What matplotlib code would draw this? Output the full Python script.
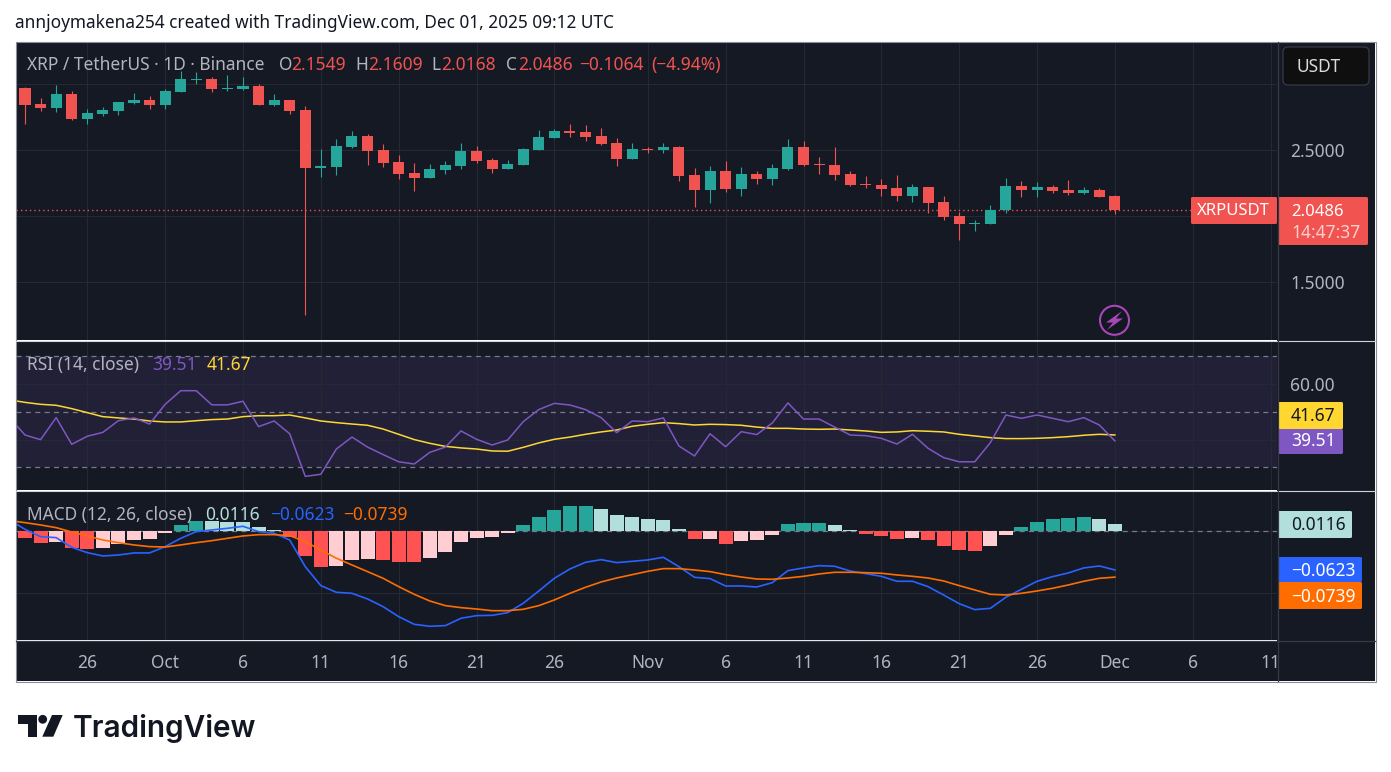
#!/usr/bin/env python3
"""XRP / TetherUS daily chart with RSI and MACD panes, TradingView snapshot style."""
import numpy as np
import matplotlib
matplotlib.use('Agg')
from matplotlib import pyplot as plt
from matplotlib.patches import Rectangle, FancyBboxPatch, Polygon, Circle

W, H = 1391, 772

# candles, first one is 22 Sep
opens = [2.972, 2.851, 2.820, 2.926, 2.737, 2.775, 2.798, 2.858, 2.881, 2.843,
         2.942, 3.035, 3.040, 2.964, 2.964, 2.987, 2.843, 2.881, 2.805, 2.366,
         2.373, 2.525, 2.608, 2.502, 2.411, 2.328, 2.290, 2.351, 2.381, 2.495,
         2.427, 2.358, 2.389, 2.502, 2.593, 2.646, 2.639, 2.608, 2.555, 2.434,
         2.510, 2.502, 2.525, 2.313, 2.199, 2.343, 2.207, 2.320, 2.283, 2.358,
         2.525, 2.396, 2.389, 2.320, 2.245, 2.237, 2.214, 2.154, 2.222, 2.108,
         2.002, 1.942, 1.942, 2.048, 2.230, 2.199, 2.222, 2.199, 2.176, 2.199,
         2.1549]
highs = [2.979, 2.896, 2.995, 2.949, 2.813, 2.828, 2.866, 2.934, 2.911, 2.964,
         3.101, 3.093, 3.055, 3.070, 3.055, 3.002, 2.926, 2.881, 2.836, 2.510,
         2.586, 2.646, 2.623, 2.548, 2.464, 2.404, 2.396, 2.419, 2.555, 2.533,
         2.442, 2.427, 2.517, 2.654, 2.661, 2.699, 2.692, 2.669, 2.593, 2.555,
         2.525, 2.555, 2.533, 2.366, 2.381, 2.419, 2.373, 2.343, 2.396, 2.586,
         2.570, 2.449, 2.525, 2.343, 2.305, 2.283, 2.313, 2.245, 2.222, 2.154,
         2.033, 1.972, 2.086, 2.290, 2.267, 2.260, 2.237, 2.275, 2.222, 2.214,
         2.1609]
lows = [2.699, 2.798, 2.790, 2.729, 2.699, 2.760, 2.767, 2.851, 2.813, 2.813,
        2.942, 3.002, 2.942, 2.949, 2.959, 2.843, 2.836, 2.775, 1.252, 2.298,
        2.313, 2.517, 2.389, 2.373, 2.283, 2.192, 2.290, 2.320, 2.358, 2.404,
        2.328, 2.358, 2.389, 2.502, 2.593, 2.601, 2.570, 2.540, 2.381, 2.434,
        2.480, 2.480, 2.267, 2.070, 2.101, 2.184, 2.154, 2.245, 2.237, 2.351,
        2.381, 2.320, 2.275, 2.229, 2.214, 2.154, 2.116, 2.108, 2.025, 1.972,
        1.820, 1.889, 1.942, 2.025, 2.146, 2.146, 2.176, 2.161, 2.169, 2.146,
        2.0168]
closes = [2.843, 2.820, 2.926, 2.737, 2.783, 2.805, 2.866, 2.881, 2.843, 2.949,
          3.040, 3.043, 2.964, 2.972, 2.987, 2.843, 2.881, 2.798, 2.366, 2.381,
          2.533, 2.608, 2.495, 2.404, 2.320, 2.290, 2.358, 2.389, 2.495, 2.419,
          2.358, 2.396, 2.510, 2.601, 2.646, 2.631, 2.601, 2.548, 2.434, 2.510,
          2.502, 2.525, 2.305, 2.199, 2.343, 2.207, 2.320, 2.283, 2.366, 2.525,
          2.389, 2.389, 2.313, 2.237, 2.237, 2.207, 2.154, 2.222, 2.101, 1.995,
          1.942, 1.949, 2.048, 2.230, 2.199, 2.222, 2.192, 2.176, 2.199, 2.146,
          2.0486]

# indicator lines start one day earlier than the candles
rsi = [47.9, 41.65, 39.97, 47.9, 38.3, 41.2, 42.6, 46.8, 47.8, 45.6, 52.7, 57.6,
       57.6, 52.5, 52.5, 53.8, 44.65, 46.7, 42.1, 26.75, 27.5, 36.6, 40.9, 37.3,
       34.6, 32.0, 31.2, 35.4, 37.3, 43.1, 40.1, 38.05, 39.85, 46.45, 50.8, 53.05,
       52.45, 50.8, 47.9, 42.5, 46.7, 46.45, 47.8, 37.7, 34.1, 42.1, 37.45, 42.85,
       41.8, 46.0, 53.2, 47.4, 47.4, 44.5, 41.65, 41.4, 40.45, 38.4, 41.9, 36.85,
       33.5, 32.0, 32.0, 38.9, 48.85, 47.65, 48.85, 47.65, 46.45, 47.9, 45.25, 39.51]
rsi_ma = [54.3, 53.4, 52.7, 52.35, 51.15, 49.7, 48.25, 47.8, 47.4, 46.7, 46.35, 46.35,
          46.8, 47.2, 47.4, 48.25, 48.6, 48.6, 48.85, 47.8, 46.7, 46.1, 45.6, 45.15,
          43.8, 41.9, 40.0, 38.65, 37.55, 37.0, 36.6, 35.9, 35.8, 37.2, 38.8, 40.1,
          40.9, 41.9, 42.75, 43.45, 44.8, 45.5, 46.1, 45.75, 45.25, 45.5, 45.4, 45.15,
          44.5, 44.05, 44.05, 43.8, 43.7, 43.8, 43.45, 43.1, 42.6, 42.75, 43.2, 43.0,
          42.75, 41.9, 41.3, 40.7, 40.35, 40.35, 40.45, 40.7, 41.05, 41.55, 41.9, 41.67]

macd = [0.0183, 0.0032, -0.0086, -0.0102, -0.0258, -0.0344, -0.0398, -0.0382, -0.0349,
        -0.0349, -0.0247, -0.0113, -0.0005, 0.0022, 0.0048, 0.0081, -0.0005, -0.0032,
        -0.0140, -0.0570, -0.0876, -0.0984, -0.1000, -0.1091, -0.1215, -0.1376, -0.1500,
        -0.1532, -0.1521, -0.1403, -0.1360, -0.1355, -0.1312, -0.1161, -0.0962, -0.0758,
        -0.0607, -0.0500, -0.0457, -0.0505, -0.0484, -0.0462, -0.0419, -0.0570, -0.0742,
        -0.0763, -0.0882, -0.0882, -0.0898, -0.0828, -0.0634, -0.0591, -0.0554, -0.0564,
        -0.0640, -0.0683, -0.0726, -0.0806, -0.0806, -0.0892, -0.1027, -0.1167, -0.1263,
        -0.1242, -0.1064, -0.0935, -0.0806, -0.0731, -0.0672, -0.0591, -0.0559, -0.0623]
signal = [0.0172, 0.0140, 0.0102, 0.0059, -0.0011, -0.0075, -0.0140, -0.0183, -0.0220,
          -0.0247, -0.0253, -0.0220, -0.0183, -0.0151, -0.0113, -0.0075, -0.0054, -0.0054,
          -0.0070, -0.0167, -0.0301, -0.0435, -0.0543, -0.0650, -0.0758, -0.0892, -0.1016,
          -0.1124, -0.1199, -0.1231, -0.1253, -0.1280, -0.1280, -0.1258, -0.1199, -0.1107,
          -0.1000, -0.0903, -0.0817, -0.0753, -0.0699, -0.0645, -0.0602, -0.0602, -0.0624,
          -0.0650, -0.0699, -0.0737, -0.0769, -0.0774, -0.0753, -0.0726, -0.0688, -0.0661,
          -0.0661, -0.0667, -0.0677, -0.0704, -0.0726, -0.0753, -0.0801, -0.0876, -0.0946,
          -0.1016, -0.1027, -0.1000, -0.0962, -0.0919, -0.0866, -0.0806, -0.0758, -0.0739]
hist = [-0.0108, -0.0188, -0.0167, -0.0269, -0.0285, -0.0269, -0.0199, -0.0140, -0.0124,
        -0.0027, 0.0102, 0.0168, 0.0167, 0.0151, 0.0150, 0.0065, 0.0022, -0.0097, -0.0398,
        -0.0575, -0.0559, -0.0462, -0.0446, -0.0462, -0.0493, -0.0495, -0.0430, -0.0333,
        -0.0172, -0.0108, -0.0091, -0.0027, 0.0102, 0.0231, 0.0344, 0.0407, 0.0409, 0.0360,
        0.0263, 0.0231, 0.0199, 0.0183, 0.0038, -0.0124, -0.0123, -0.0204, -0.0156, -0.0140,
        -0.0059, 0.0118, 0.0134, 0.0135, 0.0102, 0.0022, -0.0043, -0.0075, -0.0124, -0.0108,
        -0.0140, -0.0237, -0.0301, -0.0317, -0.0237, -0.0059, 0.0070, 0.0151, 0.0199, 0.0215,
        0.0231, 0.0199, 0.0116]

tick_days = [4, 9, 14, 19, 24, 29, 34, 40, 45, 50, 55, 60, 65, 70, 75, 80]
tick_labels = ['26', 'Oct', '6', '11', '16', '21', '26', 'Nov', '6', '11', '16', '21',
               '26', 'Dec', '6', '11']
month_labels = ['Oct', 'Nov', 'Dec']

BG = '#151924'
GRID = '#252934'
AXIS = '#363a45'
TEXT = '#b2b5be'
RED = '#f05350'
GREEN = '#26a69a'
FONT = 'Noto Sans'
SIZE = 12.5

plt.rcParams['font.family'] = [FONT, 'DejaVu Sans']

fig = plt.figure(figsize=(W / 100, H / 100), dpi=100, facecolor='white')

# x scale: day 0 sits at pixel 25, 15.57 px per day
AX_L, AX_R = 16, 1277
XLIM = ((AX_L - 25) / 15.57, (AX_R - 25) / 15.57)


def make_pane(top, bottom, ylim, yticks, ylabels):
    ax = fig.add_axes([AX_L / W, 1 - bottom / H, (AX_R - AX_L) / W, (bottom - top) / H],
                      facecolor=BG)
    ax.set_xlim(*XLIM)
    ax.set_ylim(*ylim)
    ax.set_xticks(tick_days)
    ax.set_xticklabels([])
    ax.yaxis.tick_right()
    ax.set_yticks(yticks)
    ax.set_yticklabels(ylabels, color=TEXT, fontsize=SIZE)
    ax.tick_params(length=0, axis='both')
    ax.tick_params(axis='y', pad=9.5)
    ax.grid(True, color=GRID, linewidth=0.8)
    ax.set_axisbelow(True)
    for side in ax.spines.values():
        side.set_visible(False)
    return ax


ax_price = make_pane(42, 340, (1.0629, 3.3205), [1.5, 2.0, 2.5, 3.0],
                     ['1.5000', '', '2.5000', ''])
ax_rsi = make_pane(341, 490, (21.84, 75.5), [40, 60], ['', '60.00'])
ax_macd = make_pane(491, 640, (-0.1753, 0.065), [-0.1, 0.0], ['', ''])

# candles
days = np.arange(len(closes))
o, h, l, c = map(np.asarray, (opens, highs, lows, closes))
up = c >= o
candle_colors = np.where(up, GREEN, RED)
ax_price.axhline(closes[-1], color=RED, linewidth=1.0, linestyle=(0, (1, 2.2)), zorder=1.5)
wicks = ax_price.vlines(days, l, h, colors=candle_colors, linewidth=0.8, zorder=2)
wicks.set_snap(True)
ax_price.bar(days, np.maximum(np.abs(c - o), 0.006), bottom=np.minimum(o, c), width=0.71,
             color=candle_colors, linewidth=0, zorder=3)

# RSI
line_days = np.arange(len(rsi)) - 1
ax_rsi.axhspan(30, 70, color='#7e57c2', alpha=0.12, linewidth=0, zorder=0.5)
for level in (70, 50, 30):
    ax_rsi.axhline(level, color='#787b86', linewidth=0.9, linestyle=(0, (4, 3.5)), zorder=1)
ax_rsi.plot(line_days, rsi_ma, color='#fdd835', linewidth=1.1, zorder=3)
ax_rsi.plot(line_days, rsi, color='#7e57c2', linewidth=1.1, zorder=4)

# MACD: bar shade follows the direction of the histogram
hist_arr = np.asarray(hist)
prev = np.r_[hist_arr[0] + 0.001, hist_arr[:-1]]
hist_colors = np.where(hist_arr >= 0,
                       np.where(hist_arr > prev, GREEN, '#b2dfdb'),
                       np.where(hist_arr < prev, '#ff5252', '#ffcdd2'))
ax_macd.axhline(0, color='#787b86', linewidth=0.9, linestyle=(0, (4, 3.5)), zorder=1)
ax_macd.bar(days, hist_arr, width=0.9, color=hist_colors, linewidth=0, zorder=2)
ax_macd.plot(line_days, macd, color='#2962ff', linewidth=1.2, zorder=3)
ax_macd.plot(line_days, signal, color='#ff6d00', linewidth=1.2, zorder=4)

# time axis strip under the panes
ax_time = make_pane(641, 681, (0, 1), [], [])
ax_time.grid(False)
ax_time.set_xticklabels(tick_labels, color=TEXT, fontsize=SIZE)
ax_time.xaxis.set_ticks_position('top')
ax_time.tick_params(axis='x', labeltop=True, labelbottom=False, direction='in', pad=-22.5)
for lab in ax_time.get_xticklabels():
    if lab.get_text() in month_labels:
        lab.set_fontweight('bold')

# everything else is laid out in screen pixels on a full-figure overlay
ov = fig.add_axes([0, 0, 1, 1], facecolor='none', zorder=10)
ov.set_xlim(0, W)
ov.set_ylim(H, 0)
ov.axis('off')
under = fig.add_axes([0, 0, 1, 1], facecolor='none', zorder=-1)
under.set_xlim(0, W)
under.set_ylim(H, 0)
under.axis('off')
under.add_patch(Rectangle((AX_R, 42), 1375 - AX_R, 639, facecolor=BG, edgecolor='none'))


def put(x, y, s, color=TEXT, size=SIZE, **kw):
    kw.setdefault('va', 'center')
    return ov.text(x, y, s, color=color, fontsize=size, **kw)


def box(x0, y0, x1, y1, color):
    ov.add_patch(FancyBboxPatch((x0 + 1, y0 + 1), x1 - x0 - 2, y1 - y0 - 2,
                                boxstyle='round,pad=1,rounding_size=1.5',
                                facecolor=color, edgecolor='none'))


# pane separators and frame
ov.plot([16, 1375], [340.5, 340.5], color='#d1d4dc', linewidth=0.8)
ov.plot([16, 1375], [490.5, 490.5], color='#d1d4dc', linewidth=0.8)
ov.plot([16, 1375], [640.5, 640.5], color=AXIS, linewidth=0.9)
ov.plot([1277.5, 1277.5], [42, 681], color=AXIS, linewidth=0.9)
ov.add_patch(Rectangle((15.5, 41.5), 1360, 640, facecolor='none', edgecolor='#8a8e99', linewidth=0.8))

# header and legend lines
put(15, 23, 'annjoymakena254 created with TradingView.com, Dec 01, 2025 09:12 UTC',
    color='#131722', size=12.4)
put(27, 65, 'XRP / TetherUS · 1D · Binance')
for x, lab, val, gap in [(279, 'O', '2.1549', 12), (355, 'H', '2.1609', 13),
                         (431, 'L', '2.0168', 10), (506, 'C', '2.0486', 12)]:
    put(x, 65, lab)
    put(x + gap, 65, val, color=RED)
put(579, 65, '−0.1064', color=RED)
put(651, 65, '(−4.94%)', color=RED)

put(27, 365, 'RSI (14, close)')
put(152, 365, '39.51', color='#7e57c2')
put(207, 365, '41.67', color='#ffd730')

put(27, 515, 'MACD (12, 26, close)')
put(205, 515, '0.0116', color='#b2dfdb')
put(270, 515, '−0.0623', color='#2962ff')
put(343, 515, '−0.0739', color='#ff6d00')

# currency button
ov.add_patch(FancyBboxPatch((1287, 51), 78, 30, boxstyle='round,pad=4,rounding_size=5',
                            facecolor='#0f0f0f', edgecolor=AXIS, linewidth=0.9))
put(1297, 67, 'USDT', color='#dbdbdb')

# price tags
box(1191, 197, 1277, 224, RED)
put(1197, 211, 'XRPUSDT', color='white', weight='bold', size=12)
box(1278, 197, 1368, 245, RED)
put(1291, 211.5, '2.0486', color='white', weight='bold', size=12)
put(1291, 232.5, '14:47:37', color='#fbd0cf')

box(1278, 402, 1343, 429, '#ffd730')
box(1278, 429, 1343, 454, '#7e57c2')
put(1291, 416, '41.67', color='#131722')
put(1291, 441.5, '39.51', color='white')

box(1278, 511, 1352, 538, '#b2dfdb')
box(1278, 557, 1362, 582, '#2962ff')
box(1278, 582, 1362, 609, '#ff6d00')
put(1291, 525, '0.0116', color='#131722')
put(1291, 571, '−0.0623', color='white')
put(1291, 596.5, '−0.0739', color='white')

# lightning badge
ov.add_patch(Circle((1114.5, 320.3), 14.5, facecolor='#131722', edgecolor='#a847b8', linewidth=1.5))
ov.add_patch(Polygon([(1122, 311), (1106, 322.5), (1113, 322.5), (1107, 330), (1123, 318.5),
                      (1116, 318.5)], closed=True, facecolor='#a847b8', edgecolor='none'))

# logo
LOGO = '#131722'
ov.add_patch(Polygon([(18.3, 715), (37.3, 715), (37.3, 736.7), (27.7, 736.7), (27.7, 724.3),
                      (18.3, 724.3)], closed=True, facecolor=LOGO, edgecolor='none'))
ov.add_patch(Circle((42.7, 719.3), 4.4, facecolor=LOGO, edgecolor='none'))
ov.add_patch(Polygon([(52, 715), (62.7, 715), (53.3, 736.7), (42.3, 736.7)], closed=True,
                     facecolor=LOGO, edgecolor='none'))
put(73, 737, 'TradingView', color=LOGO, size=21.4, weight='semibold', va='baseline', family='Inter')

fig.savefig('out.png', dpi=100)
